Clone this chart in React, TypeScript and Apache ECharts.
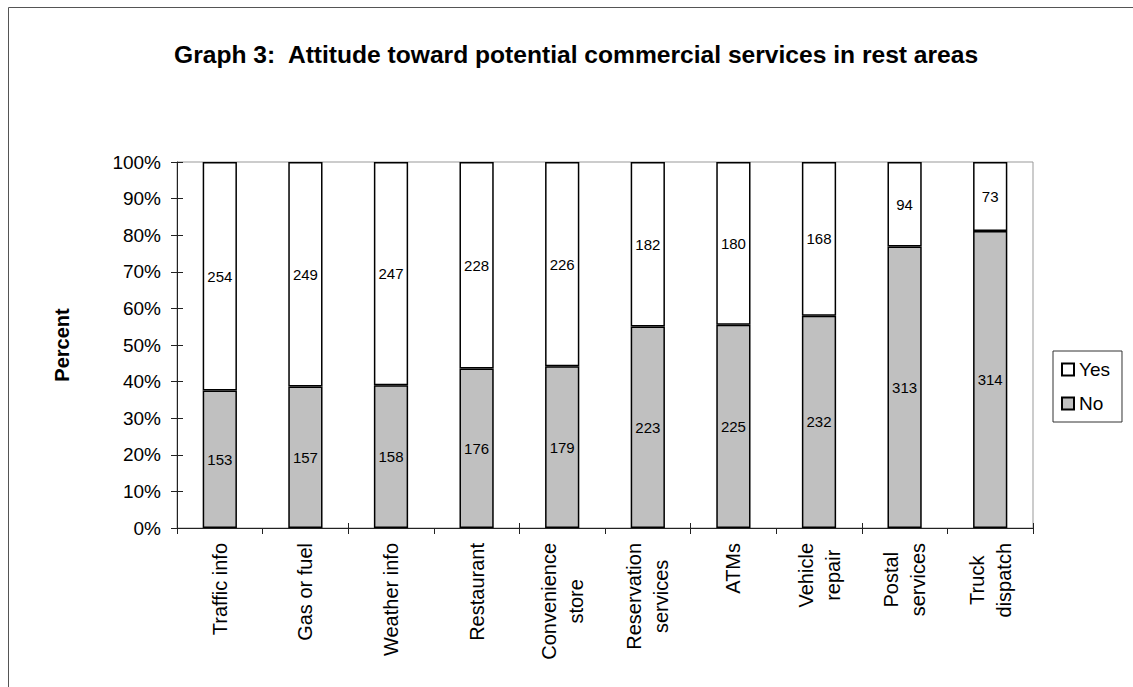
import React, { useEffect, useRef } from "react";
import * as echarts from "echarts";

const categories = [
  "Traffic info",
  "Gas or fuel",
  "Weather info",
  "Restaurant",
  "Convenience\nstore",
  "Reservation\nservices",
  "ATMs",
  "Vehicle\nrepair",
  "Postal\nservices",
  "Truck\ndispatch",
];
const noCounts = [153, 157, 158, 176, 179, 223, 225, 232, 313, 314];
const yesCounts = [254, 249, 247, 228, 226, 182, 180, 168, 94, 73];
const yTicks = [0, 10, 20, 30, 40, 50, 60, 70, 80, 90, 100];

const FONT = "'Liberation Sans', Arial, sans-serif";

export default function App() {
  const ref = useRef<HTMLDivElement>(null);
  useEffect(() => {
    if (!ref.current) return;
    const chart = echarts.init(ref.current, undefined, { renderer: "svg" });
    const totals = noCounts.map((n, i) => n + yesCounts[i]);
    const noPct = noCounts.map((n, i) => (n / totals[i]) * 100);
    const yesPct = yesCounts.map((y, i) => (y / totals[i]) * 100);
    const barStyle = (color: string) => ({
      color,
      borderColor: "#000",
      borderWidth: 1.5,
    });
    chart.setOption({
      animation: false,
      textStyle: { fontFamily: FONT },
      title: {
        text: "Graph 3:  Attitude toward potential commercial services in rest areas",
        left: 174,
        top: 42,
        padding: 0,
        textStyle: { fontSize: 24.6, fontWeight: "bold", color: "#000", fontFamily: FONT },
      },
      legend: {
        data: ["Yes", "No"],
        orient: "vertical",
        left: 1053,
        top: 351,
        padding: [9, 12, 9, 8],
        itemWidth: 12,
        itemHeight: 12,
        itemGap: 15,
        icon: "rect",
        borderColor: "#333",
        borderWidth: 1,
        textStyle: { fontSize: 19, color: "#000", lineHeight: 19, fontFamily: FONT },
      },
      grid: {
        left: 177,
        right: 100,
        top: 162,
        bottom: 159,
        show: true,
        borderColor: "#999",
        borderWidth: 1,
        backgroundColor: "transparent",
      },
      xAxis: [
        {
          type: "category",
          data: categories,
          axisLine: { lineStyle: { color: "#222", width: 1 } },
          axisTick: { show: true, length: 6, lineStyle: { color: "#222" } },
          axisLabel: {
            rotate: 90,
            fontSize: 20,
            color: "#000",
            margin: 15,
            fontFamily: FONT,
            formatter: (v: string) =>
              v
                .split("\n")
                .map((s) => `{c|${s}}`)
                .join("\n"),
            rich: {
              c: { align: "center", fontSize: 20, lineHeight: 27, color: "#000", fontFamily: FONT },
            },
          },
        },
        {
          type: "category",
          data: categories,
          position: "bottom",
          axisLine: { show: false },
          axisTick: { show: true, inside: true, length: 5, lineStyle: { color: "#222" } },
          axisLabel: { show: false },
        },
      ],
      yAxis: [
        {
          type: "value",
          min: yTicks[0],
          max: yTicks[yTicks.length - 1],
          interval: 10,
          name: "Percent",
          nameLocation: "middle",
          nameGap: 105,
          nameTextStyle: { fontSize: 20, fontWeight: "bold", color: "#000", fontFamily: FONT },
          axisLine: { show: true, lineStyle: { color: "#222", width: 1 } },
          axisTick: { show: true, length: 6, lineStyle: { color: "#222" } },
          splitLine: { show: false },
          axisLabel: { formatter: "{value}%", fontSize: 19, color: "#000", margin: 16, fontFamily: FONT },
        },
        {
          type: "value",
          min: yTicks[0],
          max: yTicks[yTicks.length - 1],
          interval: 10,
          position: "left",
          axisLine: { show: false },
          axisTick: { show: true, inside: true, length: 6, lineStyle: { color: "#222" } },
          splitLine: { show: false },
          axisLabel: { show: false },
        },
      ],
      series: [
        {
          name: "No",
          type: "bar",
          stack: "total",
          barWidth: "40%",
          data: noPct,
          itemStyle: barStyle("#c0c0c0"),
          label: {
            show: true,
            position: "inside",
            fontSize: 15,
            color: "#000",
            fontFamily: FONT,
            formatter: (p: any) => String(noCounts[p.dataIndex]),
          },
        },
        {
          name: "Yes",
          type: "bar",
          stack: "total",
          barWidth: "40%",
          data: yesPct,
          itemStyle: barStyle("#ffffff"),
          label: {
            show: true,
            position: "inside",
            fontSize: 15,
            color: "#000",
            fontFamily: FONT,
            formatter: (p: any) => String(yesCounts[p.dataIndex]),
          },
        },
      ],
      graphic: [
        {
          type: "line",
          shape: { x1: 8.5, y1: 7.5, x2: 1133, y2: 7.5 },
          style: { stroke: "#555", lineWidth: 1 },
        },
        {
          type: "line",
          shape: { x1: 8.5, y1: 7.5, x2: 8.5, y2: 687 },
          style: { stroke: "#555", lineWidth: 1 },
        },
      ],
    });
    return () => chart.dispose();
  }, []);
  return (
    <div
      ref={ref}
      style={{ position: "fixed", left: 0, top: 0, width: 1133, height: 687, background: "#fff" }}
    />
  );
}
